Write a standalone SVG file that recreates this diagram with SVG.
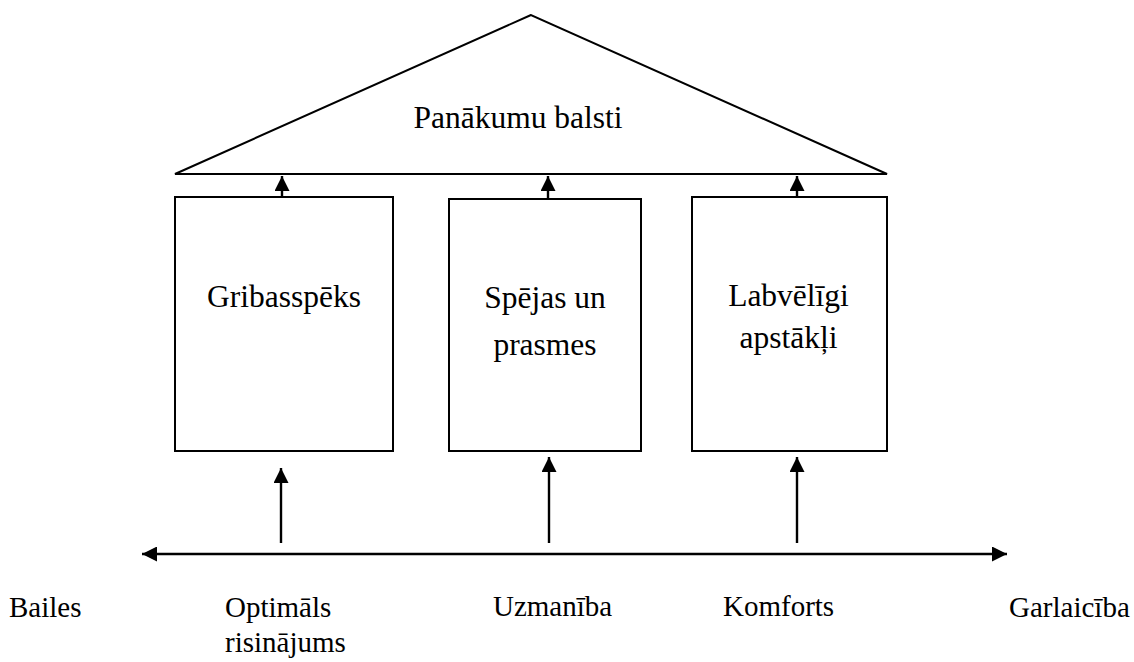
<svg xmlns="http://www.w3.org/2000/svg" width="1134" height="662" viewBox="0 0 1134 662">
<style>
.shape{fill:none;stroke:#000;stroke-width:2}
.conn{fill:none;stroke:#000;stroke-width:2.4}
.t{font-family:"Liberation Serif","Times New Roman",serif;fill:#000}
.big{font-size:31.5px}
.small{font-size:29px}
</style>
<defs>
<marker id="ah" markerUnits="userSpaceOnUse" markerWidth="15" markerHeight="15" refX="15" refY="7.5" orient="auto-start-reverse" viewBox="0 0 15 15">
<path d="M0,0 L15,7.5 L0,15 z" fill="#000"/>
</marker>
</defs>
<rect width="1134" height="662" fill="#fff"/>
<g id="roof">
<polygon class="shape" points="531,15 175,174 887,174"/>
<text class="t big" x="518" y="128" text-anchor="middle">Panākumu balsti</text>
</g>
<g id="box-gribasspeks">
<rect class="shape" x="175" y="197" width="218" height="254"/>
<text class="t big" x="284" y="307" text-anchor="middle">Gribasspēks</text>
</g>
<g id="box-spejas">
<rect class="shape" x="449" y="199" width="192" height="252"/>
<text class="t big" x="545" y="308" text-anchor="middle">Spējas un</text>
<text class="t big" x="545" y="355" text-anchor="middle">prasmes</text>
</g>
<g id="box-labveligi">
<rect class="shape" x="692" y="197" width="195" height="254"/>
<text class="t big" x="788.5" y="306" text-anchor="middle">Labvēlīgi</text>
<text class="t big" x="788.5" y="348" text-anchor="middle">apstākļi</text>
</g>
<g id="labels">
<text class="t small" x="9" y="617">Bailes</text>
<text class="t small" x="225" y="617">Optimāls</text>
<text class="t small" x="225" y="652">risinājums</text>
<text class="t small" x="493" y="616">Uzmanība</text>
<text class="t small" x="723" y="616">Komforts</text>
<text class="t small" x="1009" y="617">Garlaicība</text>
</g>
<g id="connectors">
<line class="conn" x1="282" y1="197" x2="282" y2="176" marker-end="url(#ah)"/>
<line class="conn" x1="548" y1="199" x2="548" y2="176" marker-end="url(#ah)"/>
<line class="conn" x1="797" y1="197" x2="797" y2="176" marker-end="url(#ah)"/>
<line class="conn" x1="281" y1="543" x2="281" y2="468" marker-end="url(#ah)"/>
<line class="conn" x1="549" y1="543" x2="549" y2="457" marker-end="url(#ah)"/>
<line class="conn" x1="797" y1="543" x2="797" y2="457" marker-end="url(#ah)"/>
<line class="conn" x1="142" y1="554" x2="1007" y2="554" marker-start="url(#ah)" marker-end="url(#ah)"/>
</g>
</svg>
